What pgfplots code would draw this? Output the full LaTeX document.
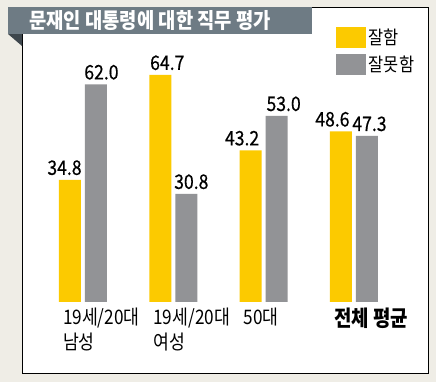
\documentclass[border=0pt]{standalone}
\usepackage{fontspec}
\usepackage{pgfplots}
\usepackage{pgfplotstable}
\pgfplotsset{compat=1.18}
\setmainfont{Noto Sans CJK KR}
\newfontfamily\kr[FakeStretch=0.88]{Noto Sans CJK KR}
\newfontfamily\krt[FakeStretch=0.86]{Noto Sans CJK KR}
\newfontfamily\krn[FakeStretch=0.88,FakeBold=0.4]{Noto Sans CJK KR}
\definecolor{bg}{HTML}{EFEDE6}
\definecolor{ylw}{HTML}{FCCA00}
\definecolor{gry}{HTML}{929396}
\definecolor{ttl}{HTML}{6E7B84}
\definecolor{fold}{HTML}{3E474D}
\pgfplotstableread{
x y s
0 34.8 -4.1
1 64.7 5.25
2 43.2 -6.4
3 48.6 -6.4
}\good
\pgfplotstableread{
x y s
0 62.0 4.1
1 30.8 3.75
2 53.0 5.25
3 47.3 1.9
}\bad
\begin{document}
\begin{tikzpicture}[x=0.75pt,y=0.75pt]
\fill[bg] (0,0) rectangle (436,382);
\useasboundingbox (0,0) rectangle (436,382);
\filldraw[fill=white, draw=black, line width=0.75pt] (22,374) rectangle (428,8);
\fill[fold] (8,348) -- (22,348) -- (22,336) -- cycle;
\fill[ttl] (8,375) rectangle (312,348);
\node[anchor=west, text=white, inner sep=0pt, font=\kr\bfseries\fontsize{16}{18}\selectfont] at (29,361) {문재인 대통령에 대한 직무 평가};
\coordinate (A) at (37.8,80);
\begin{axis}[at={(A)}, anchor=south west, scale only axis,
  width=271pt, height=184.3pt, enlargelimits=false,
  xmin=-0.5, xmax=3.5, ymin=0, ymax=70,
  axis line style={draw=none}, major tick length=0pt,
  ytick=\empty, xtick={0,1,2,3},
  xticklabels={{19세/20대\\남성},{19세/20대\\여성},{50대},{\bfseries\fontsize{16.5}{19}\selectfont 전체 평균}},
  xticklabel style={anchor=north west, xshift=-18.5pt, yshift=-1pt, align=left,
    font=\krt\fontsize{15}{19}\selectfont},
  ybar=3pt, bar width=16.5pt,
  nodes near coords,
  visualization depends on={\thisrow{s}\as\sh},
  /pgf/number format/assume math mode=true,
  nodes near coords style={xshift=\sh pt, font=\krn\fontsize{15}{17}\selectfont, /pgf/number format/.cd, fixed, fixed zerofill, precision=1, assume math mode=true},
  legend style={draw=none, fill=none, inner sep=0pt, at={(0.825,1.123)}, anchor=north west,
    font=\kr\fontsize{14}{15}\selectfont, row sep=3pt, cells={anchor=west}},
  legend image code/.code={\fill[#1] (0pt,-7.9pt) rectangle (22.5pt,7.9pt);},
]
\addplot[fill=ylw, draw=none] table[x=x, y=y] {\good};
\addlegendentry{잘함}
\addplot[fill=gry, draw=none] table[x=x, y=y] {\bad};
\addlegendentry{잘못함}
\end{axis}
\end{tikzpicture}
\end{document}
